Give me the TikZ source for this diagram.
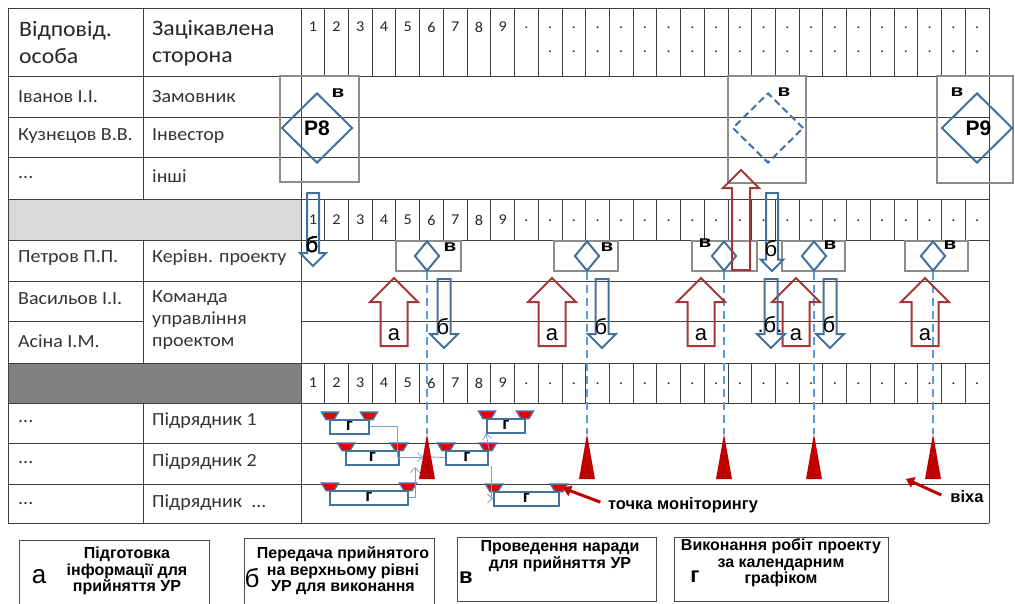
\documentclass[tikz,border=0pt]{standalone}
\usepackage{fontspec}
\setmainfont{Carlito}[FakeStretch=1.08]
\newfontfamily\labelfont{Liberation Sans}
\newfontfamily\markfont{Liberation Sans}[FakeStretch=1.25]
\usetikzlibrary{shapes.geometric,arrows.meta}

\definecolor{shapeblue}{RGB}{65,113,156}
\definecolor{dashblue}{RGB}{91,155,213}
\definecolor{linkblue}{RGB}{120,160,215}
\definecolor{arrowred}{RGB}{165,55,55}
\definecolor{markred}{RGB}{192,0,0}
\definecolor{capred}{RGB}{230,0,0}
\definecolor{boxgray}{RGB}{140,140,140}

% hollow block arrow: style, x, tail y, tip y, shaft half width, head half width
\newcommand{\hollowarrow}[6]{%
  \pgfmathsetmacro\headbase{#4+(#3>#4 ? 1 : -1)*#6}
  \draw[#1] (#2-#5,#3) -- (#2-#5,\headbase) -- (#2-#6,\headbase) -- (#2,#4)
    -- (#2+#6,\headbase) -- (#2+#5,\headbase) -- (#2+#5,#3) -- cycle;
}
% gantt bar: name, left x, right x, top of the caps
\newcommand{\ganttbar}[4]{%
  \node[barbody, minimum width={#3-#2}] (#1) at ({(#2+#3)/2},#4+14.5) {г};
  \filldraw[barcap] (#2-8.5,#4) -- (#2+8.5,#4) -- (#2+4,#4+7.5) -- (#2-4,#4+7.5) -- cycle;
  \filldraw[barcap] (#3-8.5,#4) -- (#3+8.5,#4) -- (#3+4,#4+7.5) -- (#3-4,#4+7.5) -- cycle;
}

\begin{document}
\begin{tikzpicture}[x=1pt,y=-1pt,
  grid/.style={draw=black!75, line width=0.9pt},
  frame/.style={draw=boxgray, line width=2pt},
  bigdiamond/.style={diamond, draw=shapeblue, line width=2pt, minimum width=71pt,
    minimum height=70pt, inner sep=0pt, font=\labelfont\bfseries\fontsize{21}{21}\selectfont},
  smalldiamond/.style={diamond, draw=shapeblue, line width=2pt, minimum width=25pt,
    minimum height=30pt, inner sep=0pt},
  vmark/.style={font=\markfont\bfseries\fontsize{16.5}{16.5}\selectfont, inner sep=0pt},
  blockred/.style={draw=arrowred, line width=2pt},
  blockblue/.style={draw=shapeblue, line width=2pt},
  dashline/.style={draw=dashblue, line width=2pt, dash pattern=on 8pt off 5pt},
  tabtext/.style={font=\fontsize{18.5}{22}\selectfont, text=black!80, anchor=west,
    align=left, inner sep=0pt},
  headtext/.style={font=\fontsize{22}{27}\selectfont, text=black!85, anchor=west,
    align=left, inner sep=0pt},
  num/.style={font=\fontsize{15}{15}\selectfont, text=black!85, inner sep=0pt},
  arrlabel/.style={font=\labelfont\fontsize{22}{22}\selectfont, inner sep=0pt},
  barbody/.style={draw=shapeblue, line width=2pt, fill=white, inner sep=0pt,
    minimum height=14pt, font=\labelfont\bfseries\fontsize{17}{17}\selectfont},
  barcap/.style={fill=capred, draw=shapeblue, line width=1.5pt},
  link/.style={draw=linkblue, line width=0.8pt},
  linkarrow/.style={link, -{Straight Barb[length=5pt,width=9pt]}},
  notearrow/.style={draw=markred, line width=3pt, -{Triangle[length=8pt,width=11pt]}},
  notetext/.style={font=\labelfont\bfseries\fontsize{16.5}{16.5}\selectfont, inner sep=0pt},
  legbox/.style={draw=black!70, line width=1pt},
  legtext/.style={font=\labelfont\bfseries\fontsize{16}{16.5}\selectfont, align=center,
    inner sep=0pt},
  legbig/.style={font=\labelfont\fontsize{26}{26}\selectfont, inner sep=0pt}]
\useasboundingbox (0,0) rectangle (1015,603);
\def\cw{23.724}

% table
\fill[black!15] (8,199) rectangle (301,240);
\fill[black!50] (8,363) rectangle (301,403);
\foreach \y in {8,76,117,157,199,240,281,363,403,443,484,523}
  \draw[grid] (8,\y) -- (989,\y);
\draw[grid] (8,321) -- (143,321) (301,321) -- (989,321);
\draw[grid] (8,8) -- (8,523) (301,8) -- (301,523) (989,8) -- (989,523);
\draw[grid] (143,8) -- (143,199) (143,240) -- (143,363) (143,403) -- (143,523);
\foreach \k in {1,...,28} {
  \draw[grid] ({301+\k*\cw},8) -- ({301+\k*\cw},76);
  \draw[grid] ({301+\k*\cw},199) -- ({301+\k*\cw},240);
  \draw[grid] ({301+\k*\cw},363) -- ({301+\k*\cw},403);
}
\foreach \k in {1,...,9} {
  \node[num] (h\k) at ({301+(\k-0.5)*\cw},27) {\k};
  \node[num] (m\k) at ({301+(\k-0.5)*\cw},220) {\k};
  \node[num] (s\k) at ({301+(\k-0.5)*\cw},383) {\k};
}
\foreach \k in {10,...,29} {
  \node[num] (hd\k) at ({301+(\k-0.5)*\cw},28) {.};
  \node[num] (md\k) at ({301+(\k-0.5)*\cw},221) {.};
  \node[num] (sd\k) at ({301+(\k-0.5)*\cw},384) {.};
}
\foreach \k in {11,...,29}
  \node[num] (he\k) at ({301+(\k-0.5)*\cw},52) {.};

\node[headtext] (hperson) at (19,43) {Відповід.\\особа};
\node[headtext] (hparty) at (152,43) {Зацікавлена\\сторона};
\node[tabtext] (n1) at (18,97) {Іванов І.І.};
\node[tabtext] (c1) at (152,97) {Замовник};
\node[tabtext] (n2) at (18,136) {Кузнєцов В.В.};
\node[tabtext] (c2) at (152,136) {Інвестор};
\node[tabtext] (n3) at (18,178) {...};
\node[tabtext] (c3) at (152,176) {інші};
\node[tabtext] (n4) at (18,258) {Петров П.П.};
\node[tabtext] (c4) at (152,258) {Керівн. проекту};
\node[tabtext] (n5) at (18,299) {Васильов І.І.};
\node[tabtext] (n6) at (18,341) {Асіна І.М.};
\node[tabtext] (c5) at (152,320) {Команда\\управління\\проектом};
\node[tabtext] (n7) at (18,422) {...};
\node[tabtext] (c7) at (152,421) {Підрядник 1};
\node[tabtext] (n8) at (18,463) {...};
\node[tabtext] (c8) at (152,462) {Підрядник 2};
\node[tabtext] (n9) at (18,504) {...};
\node[tabtext] (c9) at (152,503) {Підрядник \ ...};

% top level decisions
\draw[frame] (280,76) rectangle (359,182);
\draw[frame] (728,76) rectangle (806,183);
\draw[frame] (937,76) rectangle (1013,183);
\node[bigdiamond] (r8) at (317,128) {Р8};
\node[bigdiamond, dashed, dash pattern=on 7pt off 4pt] (rx) at (768,128) {};
\node[bigdiamond] (r9) at (977,128) {\hspace*{3pt}Р9};
\node[vmark] (v8) at (338,93) {в};
\node[vmark] (vx) at (784,92) {в};
\node[vmark] (v9) at (957,92) {в};

% project manager level
\draw[frame] (396,241) rectangle (461,271);
\draw[frame] (554,241) rectangle (618,271);
\draw[frame] (692,241) rectangle (757,271);
\draw[frame] (782,241) rectangle (845,271);
\draw[frame] (905,241) rectangle (968,271);
\foreach \x [count=\i] in {427,587,724,814,933} {
  \node[smalldiamond] (d\i) at (\x,256) {};
  \fill[markred] (\x-8,479) -- (\x,434) -- (\x+8,479) -- cycle;
  \coordinate (t\i) at (\x,434);
  \draw[dashline] (d\i.south) -- (t\i);
}
\node[vmark] (vd1) at (450,247) {в};
\node[vmark] (vd2) at (607,247) {в};
\node[vmark] (vd3) at (705,243) {в};
\node[vmark] (vd4) at (830,245) {в};
\node[vmark] (vd5) at (950,245) {в};

\hollowarrow{blockred}{741}{270}{170}{9}{18}
\hollowarrow{blockblue}{313}{193}{266}{6}{13}
\hollowarrow{blockblue}{772}{193}{271}{6}{11.5}
\foreach \x [count=\i] in {394,552,701,796,925} {
  \hollowarrow{blockred}{\x}{346}{278}{13.5}{24}
  \node[arrlabel] (la\i) at (\x,335) {а};
}
\foreach \x in {444,602,771,830}
  \hollowarrow{blockblue}{\x}{279}{348}{6.5}{14}
\node[arrlabel] (lb1) at (312,245) {б};
\node[arrlabel] (lb2) at (443,327) {б};
\node[arrlabel] (lb3) at (601,327) {б};
\node[arrlabel] (lb4) at (771,249) {б};
\node[arrlabel] (lb5) at (770,325) {.б.};
\node[arrlabel] (lb6) at (829,325) {б};

% contractors schedule
\ganttbar{g1}{330}{369}{412}
\ganttbar{g2}{346}{399}{443}
\ganttbar{g3}{330}{408}{483}
\ganttbar{g4}{487}{525}{411}
\ganttbar{g5}{446}{488}{443}
\ganttbar{g6}{494}{559}{484}
\coordinate (k1) at (423,457);
\coordinate (k2) at (415,467);
\coordinate (k3) at (431,457);
\draw[linkarrow] (g1.east) -- ++(27,0) |- (k1);
\draw[linkarrow] (g3.east) -| (k2);
\draw[link] (k3) -- (g5.west);
\draw[linkarrow] (g5.north east) -- (g4.south west);
\draw[linkarrow] ([xshift=2pt]g5.south east) |- (g6.west);

\node[notetext] (mon) at (683,505) {точка моніторингу};
\coordinate (monend) at (563,488);
\draw[notearrow, shorten <=8pt] (mon.west) -- (monend);
\node[notetext] (mile) at (967,497) {віха};
\coordinate (mileend) at (906,479);
\draw[notearrow] ([shift={(-9,-2)}]mile.west) -- (mileend);

% legend
\draw[legbox] (19,540) rectangle (209,607);
\draw[legbox] (244,538) rectangle (434,607);
\draw[legbox] (457,537) rectangle (656,601);
\draw[legbox] (674,537) rectangle (888,601);
\node[legbig] (ka) at (39,577) {а};
\node[legtext] (ta) at (127,571) {Підготовка\\інформації для\\прийняття УР};
\node[legbig] (kb) at (252,578) {б};
\node[legtext] (tb) at (343,571) {Передача прийнятого\\на верхньому рівні\\УР для виконання};
\node[legbig, font=\labelfont\bfseries\fontsize{22}{22}\selectfont] (kv) at (466,578) {в};
\node[legtext] (tv) at (560,556) {Проведення наради\\для прийняття УР};
\node[legbig, font=\labelfont\bfseries\fontsize{22}{22}\selectfont] (kg) at (695,577) {г};
\node[legtext] (tg) at (781,563) {Виконання робіт проекту\\за календарним\\графіком};
\end{tikzpicture}
\end{document}
